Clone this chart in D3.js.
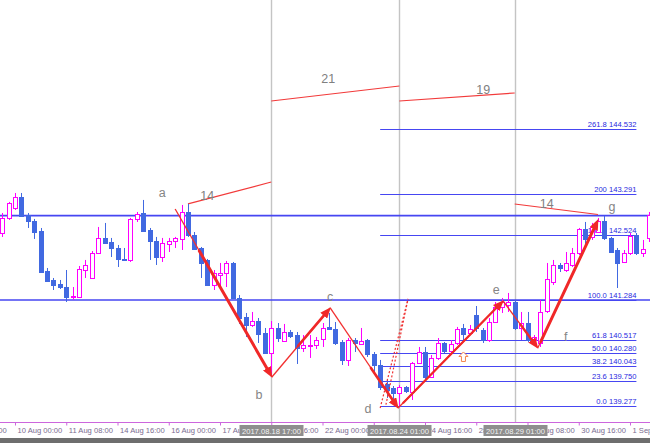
<!DOCTYPE html>
<html><head><meta charset="utf-8">
<script src="https://cdn.jsdelivr.net/npm/d3@7"></script>
<style>html,body{margin:0;padding:0;background:#fff;overflow:hidden}</style>
</head><body><svg id="c" width="650" height="443"></svg>
<script>
// ---- DATA (USDJPY H4, bar index 0 = 10 Aug 2017 00:00) ----
const firstBar = -2;
const open  = [142.553,142.838,143.027,143.236,142.895,142.781,142.591,141.833,141.663,141.587,141.530,141.350,141.341,141.852,141.701,142.174,142.459,142.383,142.269,142.061,142.042,142.819,142.932,142.610,142.402,142.098,142.345,142.402,142.440,142.951,142.516,142.269,142.042,141.568,141.757,141.795,141.985,141.322,140.962,140.811,140.886,140.659,140.280,140.754,140.507,140.678,140.621,140.375,140.422,140.432,140.545,140.773,140.735,140.489,140.148,140.526,140.451,140.526,140.261,140.053,139.693,139.617,139.522,139.636,139.541,140.091,140.299,139.826,140.186,140.470,140.318,140.470,140.754,140.659,141.000,140.716,140.526,140.867,141.152,141.189,141.246,140.754,140.848,140.526,140.470,141.076,141.625,141.947,141.852,141.947,142.174,142.629,142.478,142.572,142.781,142.459,142.231,142.004,142.174,142.516,142.174,142.459];
const high  = [142.932,143.141,143.311,143.311,142.932,142.819,142.648,141.890,141.701,141.663,141.852,141.530,141.928,142.042,142.212,142.667,142.743,142.459,142.326,142.269,142.838,142.951,143.179,142.648,142.478,142.459,142.459,142.478,143.084,143.103,142.572,142.288,142.061,141.852,141.985,142.023,142.004,141.379,141.038,141.057,140.943,140.754,140.886,140.848,140.830,140.716,140.678,140.621,140.621,140.583,140.848,141.038,140.867,140.526,140.564,140.564,140.754,140.545,140.299,140.148,139.769,139.655,139.674,139.655,140.110,140.394,140.394,140.242,140.564,140.489,140.526,140.773,140.830,140.811,141.170,140.754,140.943,141.246,141.322,141.417,141.284,141.057,141.057,140.621,141.284,141.985,142.042,141.985,142.193,142.269,142.648,142.762,142.743,142.838,142.876,142.478,142.269,142.231,142.553,142.553,142.421,142.951];
const low   = [142.478,142.800,142.989,142.857,142.648,142.440,141.795,141.625,141.473,141.492,141.246,141.284,141.322,141.701,141.682,142.155,142.345,142.098,141.909,142.023,142.004,142.762,142.572,142.042,141.947,142.004,142.193,142.269,142.231,142.478,142.231,141.701,141.549,141.473,141.530,141.530,141.303,140.830,140.583,140.773,140.470,140.261,139.826,140.489,140.489,140.564,140.072,140.299,140.186,140.356,140.394,140.716,140.432,140.053,140.034,140.299,140.432,140.205,139.863,139.579,139.428,139.390,139.257,139.522,139.390,140.072,139.769,139.807,140.148,140.280,140.280,140.432,140.526,140.621,140.678,140.470,140.489,140.848,141.038,141.057,140.716,140.526,140.489,140.432,140.394,141.038,141.568,141.814,141.814,141.909,142.136,142.288,142.421,142.553,142.421,142.174,141.511,141.985,142.136,142.136,142.098,142.383];
const close = [142.838,143.122,143.236,142.876,142.781,142.572,141.814,141.644,141.568,141.530,141.341,141.360,141.871,141.947,142.174,142.459,142.364,142.269,142.061,142.042,142.819,142.914,142.591,142.402,142.098,142.364,142.402,142.459,142.951,142.516,142.250,141.985,141.568,141.795,141.795,141.985,141.322,140.943,140.811,140.886,140.640,140.280,140.754,140.564,140.678,140.602,140.375,140.432,140.432,140.526,140.754,140.735,140.470,140.148,140.526,140.470,140.507,140.261,140.053,139.636,139.579,139.522,139.636,139.560,140.091,140.299,139.826,140.186,140.470,140.318,140.451,140.735,140.640,140.735,140.754,140.526,140.867,141.152,141.246,141.246,140.754,140.848,140.526,140.583,141.057,141.682,141.947,141.890,141.985,142.174,142.629,142.440,142.667,142.781,142.459,142.193,141.985,142.174,142.496,142.174,142.250,142.895];

const tickBars   = [-8,0,8,16,24,32,40,48,56,64,72,80,88,96];
const tickLabels = ["8 Aug 16:00","10 Aug 00:00","11 Aug 08:00","14 Aug 16:00","16 Aug 00:00","17 Aug 08:00","18 Aug 16:00","22 Aug 00:00","23 Aug 08:00","24 Aug 16:00","28 Aug 00:00","29 Aug 08:00","30 Aug 16:00","1 Sep 00:00"];

const hLinePrices = [142.881, 141.284];
const fibRatios = ["0.0","23.6","38.2","50.0","61.8","100.0","161.8","200","261.8"];
const fibPrices = [139.277,139.750,140.043,140.280,140.517,141.284,142.524,143.291,144.532];
const fibFromBar = 57, fibToBar = 97;

const vLineBars   = [40, 60, 78];
const vLineLabels = ["2017.08.18 17:00","2017.08.24 01:00","2017.08.29 01:00"];

const waveLabels = ["a","b","c","d","e","f","g"];
const waveBars   = [25, 40.1, 49.2, 59.8, 76.2, 81.6, 91.0];
const wavePrices = [143.008, 139.826, 141.133, 139.238, 141.265, 140.375, 142.800];

const countLabels     = ["14","21","19","14"];
const countFromBar    = [27, 40, 60, 78];
const countFromPrice  = [143.103, 145.053, 145.053, 143.102];
const countToBar      = [40, 60, 78, 91];
const countToPrice    = [143.519, 145.337, 145.205, 142.903];
const countLabelBar   = [30, 48.9, 73.1, 83];
const countLabelPrice = [143.254, 145.470, 145.280, 143.103];

const dotBarsA = [57.0, 61.35], dotPricesA = [139.238, 141.303];
const dotBarsB = [57.9, 61.35], dotPricesB = [139.300, 141.303];
const signalBar = 70, signalPrice = 140.205;

// ---- DRAW ----
const W = 650, H = 443, plotB = 422;
const svg = d3.select("#c");
const xs = d3.scaleLinear().domain([0, 96]).range([15, 630]);
const ys = d3.scaleLinear().domain([138.973, 146.966]).range([plotB, 0]);

const defs = svg.append("defs");
defs.append("clipPath").attr("id","plot").append("rect").attr("x",0).attr("y",0).attr("width",W).attr("height",plotB);
defs.append("marker").attr("id","ah").attr("markerUnits","userSpaceOnUse")
  .attr("markerWidth",11).attr("markerHeight",9).attr("refX",10).attr("refY",4.5).attr("orient","auto")
  .append("path").attr("d","M0,0 L11,4.5 L0,9 Z").attr("fill","#f02828");

const g = svg.append("g").attr("clip-path","url(#plot)");
const FONT = "'Liberation Sans', Arial, sans-serif";
const BLUE = "#4646f2";

// vertical lines
vLineBars.forEach(b => {
  const x = Math.round(xs(b)) + 0.5;
  g.append("line").attr("x1",x).attr("x2",x).attr("y1",0).attr("y2",plotB)
   .attr("stroke","#c4c4c4").attr("stroke-width",1.4);
});

// full width horizontal lines
hLinePrices.forEach(p => {
  g.append("line").attr("x1",0).attr("x2",W).attr("y1",ys(p)).attr("y2",ys(p))
   .attr("stroke",BLUE).attr("stroke-width",1.6);
});

// fib levels
fibPrices.forEach((p,i) => {
  const y = Math.round(ys(p)) + 0.5;
  g.append("line").attr("x1",xs(fibFromBar)).attr("x2",xs(fibToBar)).attr("y1",y).attr("y2",y)
   .attr("stroke",BLUE).attr("stroke-width",1.2);
  g.append("text").attr("x",xs(fibToBar)).attr("y",y-2.5).attr("text-anchor","end")
   .attr("font-family",FONT).attr("font-size","7.6px").attr("fill","#2828e0")
   .text(fibRatios[i] + " " + p.toFixed(3));
});

// bar count lines
countLabels.forEach((t,i) => {
  g.append("line").attr("x1",xs(countFromBar[i])).attr("y1",ys(countFromPrice[i]))
   .attr("x2",xs(countToBar[i])).attr("y2",ys(countToPrice[i]))
   .attr("stroke","#f23a3a").attr("stroke-width",1.2);
  g.append("text").attr("x",xs(countLabelBar[i])).attr("y",ys(countLabelPrice[i])+4.5)
   .attr("text-anchor","middle").attr("font-family",FONT).attr("font-size","12.5px").attr("fill","#808080").text(t);
});

// candles
const BULL = "#ff00ff", BEAR = "#4169e1";
open.forEach((o,k) => {
  const i = firstBar + k;
  const c = close[k], h = high[k], l = low[k];
  const cx = Math.round(xs(i));
  const bull = c >= o;
  const col = bull ? BULL : BEAR;
  g.append("line").attr("x1",cx+0.5).attr("x2",cx+0.5).attr("y1",ys(h)).attr("y2",ys(l))
   .attr("stroke",col).attr("stroke-width",1);
  const yt = Math.round(ys(Math.max(o,c))), yb = Math.round(ys(Math.min(o,c)));
  const hh = Math.max(1, yb - yt);
  if (bull) {
    g.append("rect").attr("x",cx-1.5).attr("y",yt+0.5).attr("width",4).attr("height",hh)
     .attr("fill","#fff").attr("stroke",col).attr("stroke-width",1);
  } else {
    g.append("rect").attr("x",cx-2).attr("y",yt).attr("width",5).attr("height",hh+1).attr("fill",col);
  }
});

// dotted lines
[[dotBarsA,dotPricesA],[dotBarsB,dotPricesB]].forEach(([bs,ps]) => {
  g.append("line").attr("x1",xs(bs[0])).attr("y1",ys(ps[0])).attr("x2",xs(bs[1])).attr("y2",ys(ps[1]))
   .attr("stroke","#f03030").attr("stroke-width",1.2).attr("stroke-dasharray","2,2");
});

// zigzag legs
const thickFrom = [0.25, 0.45, 0.6, 0.05, 0.5, 0.05];
const thickW = [3, 2.6, 2.6, 2.2, 2.4, 3];
for (let k = 0; k < waveBars.length - 1; k++) {
  const x0 = xs(waveBars[k]), y0 = ys(wavePrices[k]);
  const x1 = xs(waveBars[k+1]), y1 = ys(wavePrices[k+1]);
  g.append("line").attr("x1",x0).attr("y1",y0).attr("x2",x1).attr("y2",y1)
   .attr("stroke","#f23030").attr("stroke-width",1.3);
  const t = thickFrom[k];
  const tx = x0 + (x1-x0)*t, ty = y0 + (y1-y0)*t;
  const len = Math.hypot(x1-x0, y1-y0);
  const ex = x1 - (x1-x0)/len*6, ey = y1 - (y1-y0)/len*6;
  g.append("line").attr("x1",tx).attr("y1",ty).attr("x2",ex).attr("y2",ey)
   .attr("stroke","#f02828").attr("stroke-width",thickW[k]).attr("stroke-linecap","round");
  g.append("line").attr("x1",ex).attr("y1",ey).attr("x2",x1).attr("y2",y1)
   .attr("stroke","none").attr("marker-end","url(#ah)");
}

// wave labels
const labOff = [[-13,-16],[-13,18],[0,-11],[-30,0],[-7,-11],[28,-11],[14,-13]];
waveLabels.forEach((t,k) => {
  g.append("text").attr("x",xs(waveBars[k])+labOff[k][0]).attr("y",ys(wavePrices[k])+labOff[k][1]+4.5)
   .attr("text-anchor","middle").attr("font-family",FONT).attr("font-size","12.5px").attr("fill","#858585").text(t);
});

// signal arrow
{
  const x = xs(signalBar), y = ys(signalPrice);
  g.append("path").attr("d",`M${x},${y-5} L${x+4.5},${y-0.5} L${x+2},${y-0.5} L${x+2},${y+4.5} L${x-2},${y+4.5} L${x-2},${y-0.5} L${x-4.5},${y-0.5} Z`)
   .attr("fill","#fff").attr("stroke","#f5844a").attr("stroke-width",1);
}

// time axis
const axis = d3.axisBottom(xs).tickValues(tickBars).tickFormat((d,i) => tickLabels[i]).tickSize(3).tickSizeOuter(0);
const ax = svg.append("g").attr("transform",`translate(0,${plotB+0.5})`).call(axis);
ax.select(".domain").attr("stroke","#cc66dd").attr("d",`M0,0H${W}`);
ax.selectAll(".tick line").attr("stroke","#cc66dd");
ax.selectAll(".tick text").attr("text-anchor","start").attr("x",2).attr("y",5).attr("dy","0.71em")
  .attr("font-family",FONT).attr("font-size","7.6px").attr("fill","#7a6c90");

// date boxes for vertical lines
vLineBars.forEach((b,i) => {
  const x = Math.round(xs(b)) + 0.5;
  svg.append("rect").attr("x",x-32).attr("y",425).attr("width",64).attr("height",11).attr("fill","#8e8e8e");
  svg.append("text").attr("x",x).attr("y",433.5).attr("text-anchor","middle")
   .attr("font-family",FONT).attr("font-size","7.6px").attr("fill","#f4f4f4").text(vLineLabels[i]);
});

// bottom frame bar
svg.append("rect").attr("x",0).attr("y",438).attr("width",W).attr("height",5).attr("fill","#6e6e6e");
</script>
</body></html>
